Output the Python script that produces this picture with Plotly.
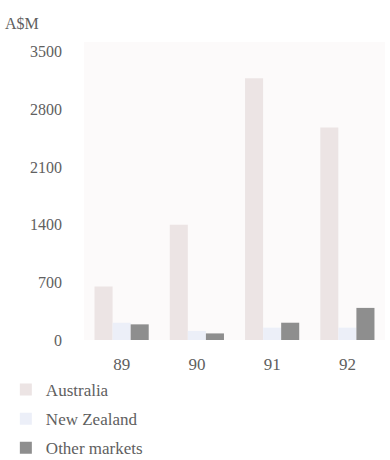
import plotly.graph_objects as go

years = ["89", "90", "91", "92"]
australia = [650, 1400, 3180, 2580]
new_zealand = [210, 110, 150, 150]
other_markets = [190, 80, 210, 390]
y_ticks = [0, 700, 1400, 2100, 2800, 3500]

font_family = "'Liberation Serif', 'DejaVu Serif', serif"
text_color = "#606060"

W, H = 390, 460
ML, MR, MT, MB = 84, 5, 42, 120
PW, PH = W - ML - MR, H - MT - MB

fig = go.Figure()
series = [
    ("Australia", australia, "#ece4e4"),
    ("New Zealand", new_zealand, "#eceff8"),
    ("Other markets", other_markets, "#8e8e8e"),
]
for name, vals, col in series:
    fig.add_trace(go.Bar(
        x=years, y=vals, name=name, legendgroup=name,
        marker=dict(color=col, line=dict(width=0)),
    ))

fig.update_layout(
    width=W, height=H,
    margin=dict(l=ML, r=MR, t=MT, b=MB, autoexpand=False),
    paper_bgcolor="white",
    plot_bgcolor="#fcfafa",
    barmode="group",
    bargap=0.28,
    bargroupgap=0.0,
    font=dict(family=font_family, size=16, color=text_color),
    showlegend=True,
    legend=dict(
        orientation="v",
        xref="container", yref="container",
        x=0.015, y=1 - 372 / H,
        xanchor="left", yanchor="top",
        font=dict(family=font_family, size=17, color=text_color),
        tracegroupgap=4,
        bgcolor="rgba(0,0,0,0)",
        itemclick=False,
    ),
    annotations=[dict(
        text="A$M", xref="paper", yref="paper",
        x=(3 - ML) / PW, y=(H - MB - 24) / PH, xanchor="left", yanchor="middle",
        showarrow=False, font=dict(family=font_family, size=16, color=text_color),
    )],
)
fig.update_xaxes(
    showgrid=False, zeroline=False, showline=False, ticks="",
    tickfont=dict(family=font_family, size=17, color=text_color),
    ticklabelstandoff=12,
)
fig.update_yaxes(
    range=[0, 3620], tickvals=y_ticks, ticktext=[str(v) for v in y_ticks],
    showgrid=False, zeroline=False, showline=False, ticks="",
    tickfont=dict(family=font_family, size=16, color=text_color),
    ticklabelstandoff=21,
)

fig.write_html("out.html")
